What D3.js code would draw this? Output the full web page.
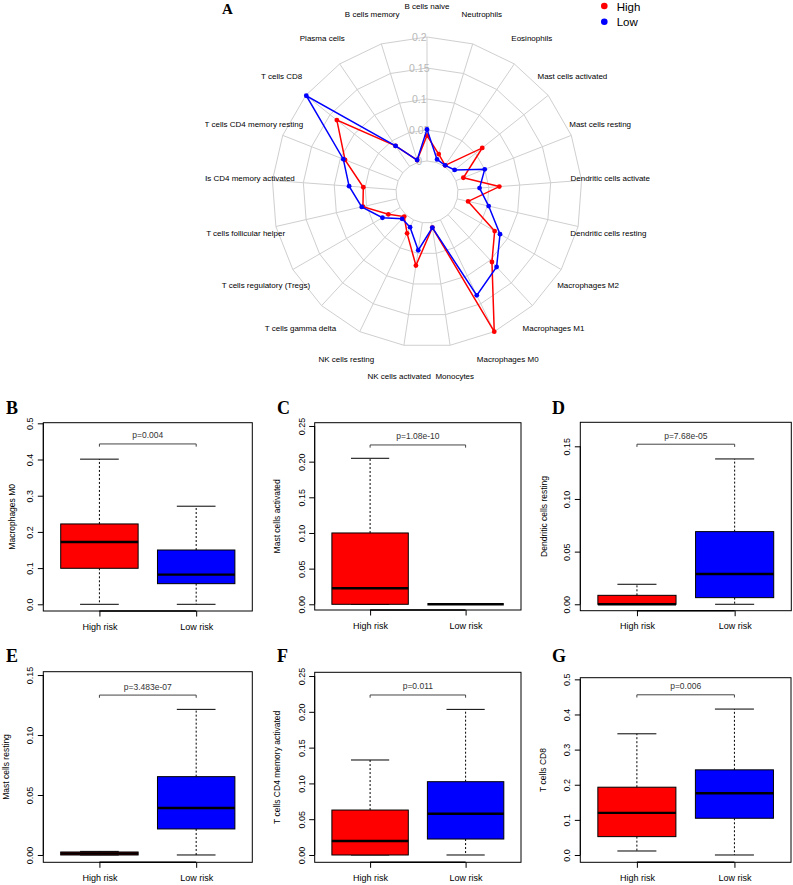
<!DOCTYPE html>
<meta charset="utf-8">
<script src="https://d3js.org/d3.v7.min.js"></script>
<style>
body {
  margin: 0;
  background: #fff;
}
text {
  font-family: "Liberation Sans", Arial, sans-serif;
}
.letter {
  font-family: "Liberation Serif", "Times New Roman", serif;
  font-weight: bold;
}
</style>
<body>
<script>

// ---- radar data (A) ----
var cellTypes = ["B cells naive", "B cells memory", "Plasma cells", "T cells CD8",
  "T cells CD4 memory resting", "T cells CD4 memory activated", "T cells follicular helper",
  "T cells regulatory (Tregs)", "T cells gamma delta", "NK cells resting", "NK cells activated",
  "Monocytes", "Macrophages M0", "Macrophages M1", "Macrophages M2", "Dendritic cells resting",
  "Dendritic cells activated", "Mast cells resting", "Mast cells activated", "Eosinophils", "Neutrophils"];
var highVals = [0.041, 0.004, 0.040, 0.136, 0.092, 0.053, 0.056, 0.022, 0.004, 0.024, 0.070,
  0.008, 0.200, 0.104, 0.076, 0.018, 0.067, 0.013, 0.064, 0.002, 0.014];
var lowVals = [0.051, 0.004, 0.040, 0.199, 0.095, 0.076, 0.058, 0.033, 0.009, 0.013, 0.045,
  0.008, 0.135, 0.115, 0.086, 0.052, 0.035, 0.050, 0.007, 0.002, 0.005];
var radarTicks = [0, 0.05, 0.1, 0.15, 0.2];
var radarTickLabels = ["0", "0.05", "0.1", "0.15", "0.2"];
var seriesNames = ["High", "Low"];
var seriesColors = ["#ff0000", "#0000ff"];

// ---- boxplot data (B-G) ----
var groups = ["High risk", "Low risk"];
var panelLetters = ["B", "C", "D", "E", "F", "G"];
var panelTitles = ["Macrophages M0", "Mast cells activated", "Dendritic cells resting",
  "Mast cells resting", "T cells CD4 memory activated", "T cells CD8"];
var pLabels = ["p=0.004", "p=1.08e-10", "p=7.68e-05", "p=3.483e-07", "p=0.011", "p=0.006"];
var bracketVals = [0.443, 0.2234, 0.152, 0.1333, 0.2235, 0.456];
// [min, q1, median, q3, max]
var highStats = [
  [0, 0.0995, 0.172, 0.222, 0.401],
  [0, 0, 0.0224, 0.100, 0.2047],
  [0, 0, 0, 0.0085, 0.019],
  [0, 0, 0.0012, 0.0025, 0.003],
  [0, 0, 0.0196, 0.0628, 0.1327],
  [0.0114, 0.0523, 0.1198, 0.193, 0.345]
];
var lowStats = [
  [0, 0.057, 0.082, 0.150, 0.271],
  [0, 0, 0, 0, 0],
  [0, 0.0063, 0.0288, 0.069, 0.138],
  [0, 0.0217, 0.0392, 0.0653, 0.1214],
  [0, 0.0223, 0.0577, 0.1024, 0.2034],
  [0, 0.1046, 0.1759, 0.2424, 0.4154]
];
var yTicks = [
  [0, 0.1, 0.2, 0.3, 0.4, 0.5],
  [0, 0.05, 0.1, 0.15, 0.2, 0.25],
  [0, 0.05, 0.1, 0.15],
  [0, 0.05, 0.1, 0.15],
  [0, 0.05, 0.1, 0.15, 0.2, 0.25],
  [0, 0.1, 0.2, 0.3, 0.4, 0.5]
];
var yTickFormats = [".1f", ".2f", ".2f", ".2f", ".2f", ".1f"];

// panel frames in pixels and the value range they cover
var layout = [
  {x0: 43.3, x1: 252.3, y0: 422.7, y1: 611, lo: -0.0185, hi: 0.5017, titleDx: 31.6, lx: 6, ly: 413.5},
  {x0: 314.7, x1: 521, y0: 422.7, y1: 610, lo: -0.008, hi: 0.2546, titleDx: 37.7, lx: 277, ly: 413.5},
  {x0: 580.3, x1: 791.3, y0: 422.3, y1: 610.7, lo: -0.0061, hi: 0.1728, titleDx: 36.3, lx: 552, ly: 413.5},
  {x0: 43.3, x1: 252.3, y0: 671.7, y1: 862.3, lo: -0.0061, hi: 0.1528, titleDx: 37.3, lx: 6, ly: 661.5},
  {x0: 314.7, x1: 521, y0: 672.3, y1: 862.3, lo: -0.0102, hi: 0.2552, titleDx: 37.7, lx: 277, ly: 661.5},
  {x0: 580.3, x1: 791, y0: 677.7, y1: 862.3, lo: -0.0208, hi: 0.5047, titleDx: 37.3, lx: 552, ly: 661.5}
];

var svg = d3.select("body")
  .append("svg")
  .attr("width", 793)
  .attr("height", 885);

svg.append("rect").attr("width", 793).attr("height", 885).attr("fill", "#fff");

// ================= radar chart =================
var cx = 427, cy = 192, R = 155;
var rScale = d3.scaleLinear().domain([0, 0.2]).range([R / 5, R]);
var aScale = d3.scaleLinear().domain([0, cellTypes.length]).range([0, 2 * Math.PI]);

function px(i, rad) { return cx - rad * Math.sin(aScale(i)); }
function py(i, rad) { return cy - rad * Math.cos(aScale(i)); }

svg.append("defs").append("clipPath").attr("id", "radarClip")
  .append("rect").attr("x", 205).attr("y", 0).attr("width", 445).attr("height", 390);

var radar = svg.append("g").attr("clip-path", "url(#radarClip)");

var ringLine = d3.line().curve(d3.curveLinearClosed);

// rings
radar.selectAll(".ring")
  .data(radarTicks)
  .enter().append("path")
  .attr("class", "ring")
  .attr("d", function(t) {
    return ringLine(cellTypes.map(function(c, i) { return [px(i, rScale(t)), py(i, rScale(t))]; }));
  })
  .attr("fill", "none")
  .attr("stroke", "#cfcfcf")
  .attr("stroke-width", 1);

// spokes
radar.selectAll(".spoke")
  .data(cellTypes)
  .enter().append("line")
  .attr("class", "spoke")
  .attr("x1", function(d, i) { return px(i, rScale(0)); })
  .attr("y1", function(d, i) { return py(i, rScale(0)); })
  .attr("x2", function(d, i) { return px(i, rScale(0.2)); })
  .attr("y2", function(d, i) { return py(i, rScale(0.2)); })
  .attr("stroke", "#cfcfcf")
  .attr("stroke-width", 1);

// axis labels along the top spoke
radar.selectAll(".rtick")
  .data(radarTicks)
  .enter().append("text")
  .attr("class", "rtick")
  .attr("x", cx - 0.05 * R)
  .attr("y", function(t) { return cy - rScale(t); })
  .attr("dy", "0.35em")
  .attr("text-anchor", "middle")
  .style("font-size", "10.5px")
  .attr("fill", "#b8b8b8")
  .text(function(t, i) { return radarTickLabels[i]; });

// category labels
radar.selectAll(".clabel")
  .data(cellTypes)
  .enter().append("text")
  .attr("class", "clabel")
  .attr("x", function(d, i) { return px(i, 1.2 * R); })
  .attr("y", function(d, i) { return py(i, 1.2 * R); })
  .attr("dy", "0.35em")
  .attr("text-anchor", "middle")
  .style("font-size", "8px")
  .attr("fill", "#000")
  .text(function(d) { return d; });

// series
[highVals, lowVals].forEach(function(vals, s) {
  var pts = vals.map(function(v, i) { return [px(i, rScale(v)), py(i, rScale(v))]; });
  radar.append("path")
    .attr("d", ringLine(pts))
    .attr("fill", "none")
    .attr("stroke", seriesColors[s])
    .attr("stroke-width", 1.5);
  radar.selectAll(".pt" + s)
    .data(pts)
    .enter().append("circle")
    .attr("cx", function(d) { return d[0]; })
    .attr("cy", function(d) { return d[1]; })
    .attr("r", 2.4)
    .attr("fill", seriesColors[s]);
});

// legend
var legend = svg.selectAll(".legend")
  .data(seriesNames)
  .enter().append("g")
  .attr("class", "legend")
  .attr("transform", function(d, i) { return "translate(604.3," + (6 + i * 15.7) + ")"; });
legend.append("circle").attr("r", 3.3).attr("fill", function(d, i) { return seriesColors[i]; });
legend.append("text")
  .attr("x", 12.4)
  .attr("y", 4.6)
  .style("font-size", "11.5px")
  .text(function(d) { return d; });

svg.append("text")
  .attr("class", "letter")
  .attr("x", 222)
  .attr("y", 14)
  .style("font-size", "15px")
  .text("A");

// ================= boxplots =================
layout.forEach(function(L, p) {
  var g = svg.append("g");
  var x = d3.scaleLinear().domain([0.42, 2.58]).range([L.x0, L.x1]);
  var y = d3.scaleLinear().domain([L.lo, L.hi]).range([L.y1, L.y0]);
  var ticks = yTicks[p];
  var bw = x(1.4) - x(0.6);

  // boxes
  [highStats[p], lowStats[p]].forEach(function(s, k) {
    var c = x(k + 1);
    // whiskers
    g.append("line")
      .attr("x1", c).attr("x2", c)
      .attr("y1", y(s[3])).attr("y2", y(s[4]))
      .attr("stroke", "#000").attr("stroke-dasharray", "2,2");
    g.append("line")
      .attr("x1", c).attr("x2", c)
      .attr("y1", y(s[1])).attr("y2", y(s[0]))
      .attr("stroke", "#000").attr("stroke-dasharray", "2,2");
    // caps
    [s[0], s[4]].forEach(function(v) {
      g.append("line")
        .attr("x1", c - bw / 4).attr("x2", c + bw / 4)
        .attr("y1", y(v)).attr("y2", y(v))
        .attr("stroke", "#000");
    });
    g.append("rect")
      .attr("x", c - bw / 2)
      .attr("y", y(s[3]))
      .attr("width", bw)
      .attr("height", y(s[1]) - y(s[3]))
      .attr("fill", seriesColors[k])
      .attr("stroke", "#000")
      .attr("stroke-width", 1);
    g.append("line")
      .attr("x1", c - bw / 2).attr("x2", c + bw / 2)
      .attr("y1", y(s[2])).attr("y2", y(s[2]))
      .attr("stroke", "#000")
      .attr("stroke-width", 2.4);
  });

  // frame
  g.append("rect")
    .attr("x", L.x0).attr("y", L.y0)
    .attr("width", L.x1 - L.x0).attr("height", L.y1 - L.y0)
    .attr("fill", "none").attr("stroke", "#000");

  // y axis
  var ya = g.append("g")
    .attr("transform", "translate(" + L.x0 + ",0)")
    .call(d3.axisLeft(y).tickValues(ticks).tickFormat(d3.format(yTickFormats[p])).tickSize(5.5));
  ya.select(".domain").remove();
  ya.selectAll("text")
    .attr("x", 0)
    .attr("y", -10)
    .attr("dy", null)
    .attr("text-anchor", "middle")
    .attr("transform", "rotate(-90)")
    .style("font-size", "9px")
    .style("font-family", "'Liberation Sans', Arial, sans-serif");
  g.append("line")
    .attr("x1", L.x0).attr("x2", L.x0)
    .attr("y1", y(ticks[0])).attr("y2", y(ticks[ticks.length - 1]))
    .attr("stroke", "#000");

  // x axis
  var xa = g.append("g")
    .attr("transform", "translate(0," + L.y1 + ")")
    .call(d3.axisBottom(x).tickValues([1, 2]).tickFormat(function(d) { return groups[d - 1]; }).tickSize(5.5));
  xa.select(".domain").remove();
  xa.selectAll("text")
    .attr("y", 18.5)
    .attr("dy", null)
    .style("font-size", "9px")
    .style("font-family", "'Liberation Sans', Arial, sans-serif");
  g.append("line")
    .attr("x1", x(1)).attr("x2", x(2))
    .attr("y1", L.y1).attr("y2", L.y1)
    .attr("stroke", "#000")
    .attr("stroke-width", 1.6);

  // y title
  g.append("text")
    .attr("transform", "translate(" + (L.x0 - L.titleDx + 3) + "," + ((L.y0 + L.y1) / 2) + ") rotate(-90)")
    .attr("text-anchor", "middle")
    .style("font-size", "8.5px")
    .text(panelTitles[p]);

  // significance bracket
  var by = y(bracketVals[p]);
  g.append("path")
    .attr("d", "M" + x(1) + "," + (by + 2.7) + "V" + by + "H" + x(2) + "V" + (by + 2.7))
    .attr("fill", "none")
    .attr("stroke", "#444");
  g.append("text")
    .attr("x", (x(1) + x(2)) / 2)
    .attr("y", by - 5.5)
    .attr("text-anchor", "middle")
    .style("font-size", "8.5px")
    .attr("fill", "#333")
    .text(pLabels[p]);

  // panel letter
  svg.append("text")
    .attr("class", "letter")
    .attr("x", L.lx)
    .attr("y", L.ly)
    .style("font-size", "18px")
    .text(panelLetters[p]);
});

</script>
</body>
</html>
